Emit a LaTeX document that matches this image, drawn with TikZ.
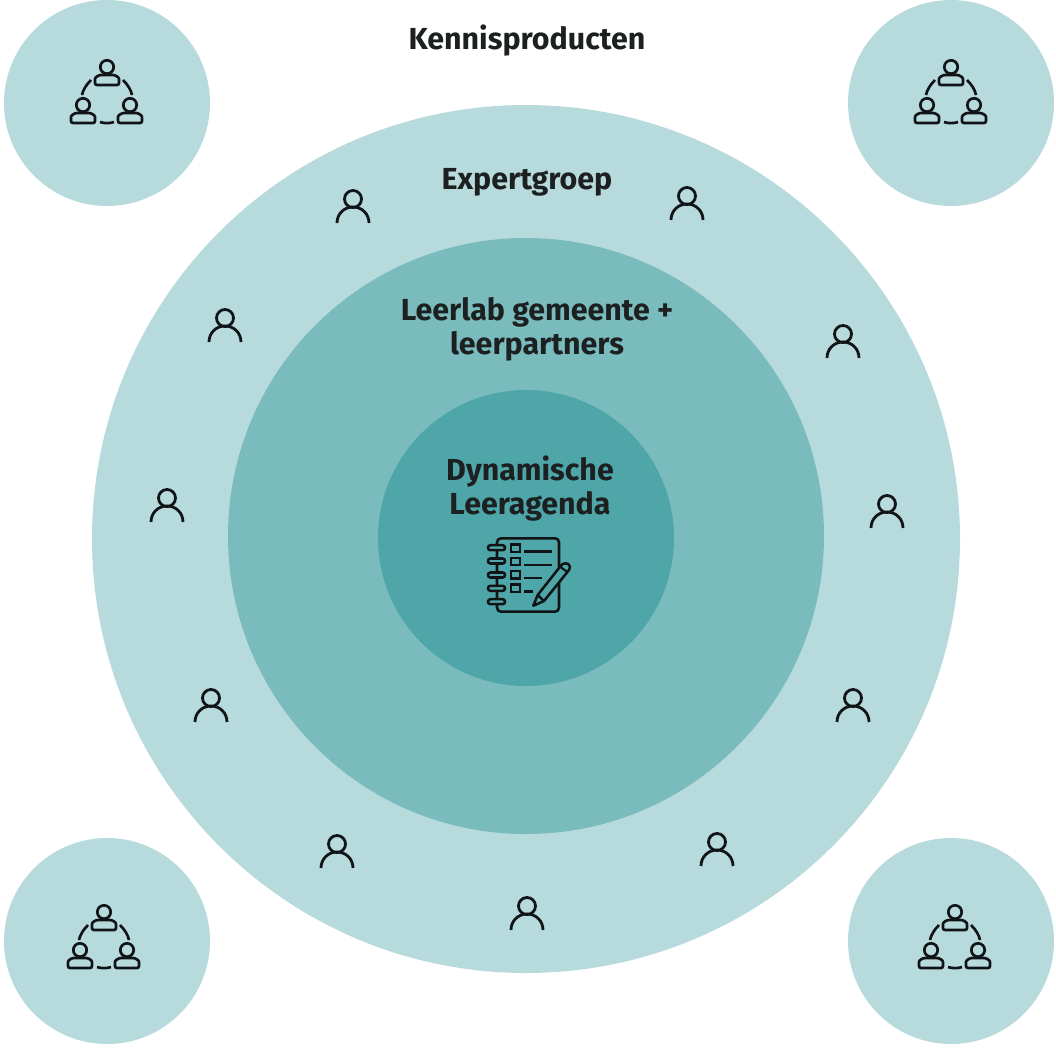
\documentclass[tikz,border=0pt]{standalone}
\usepackage{fontspec}
\setmainfont{Fira Sans}
\definecolor{lichtblauw}{HTML}{B7DADC}
\definecolor{middenblauw}{HTML}{7ABBBD}
\definecolor{donkerblauw}{HTML}{4FA6A9}
\definecolor{tekstkleur}{HTML}{1D2020}
\definecolor{lijnkleur}{HTML}{101416}
\tikzset{
    kring/.style={circle,inner sep=0pt,draw=none},
    kop/.style={text=tekstkleur,font=\fontsize{22.8}{25.5}\selectfont\bfseries,align=center},
    persoon/.pic={
        \draw[lijnkleur,line width=2.1pt] (0,0) circle (8.5);
        \draw[lijnkleur,line width=2.1pt] (-16,24) .. controls (-16,15) and (-9,8) .. (0,8) .. controls (9,8) and (16,15) .. (16,24);
    },
    lid/.pic={
        \draw[lijnkleur,line width=2pt] (0,0) circle (6.7);
        \draw[lijnkleur,line width=2pt,rounded corners=1.5pt] (-12,18) -- (12,18) -- (12,14) .. controls (12,10) and (8,8) .. (4,8) -- (-4,8) .. controls (-8,8) and (-12,10) .. (-12,14) -- cycle;
    },
    groep/.pic={
        \pic at (0,-25) {lid};
        \pic at (-24,13) {lid};
        \pic at (23,13) {lid};
        \draw[lijnkleur,line width=2pt] (-16,-12) .. controls (-21,-7) and (-24,-2) .. (-25,3);
        \draw[lijnkleur,line width=2pt] (16,-12) .. controls (21,-7) and (24,-2) .. (25,3);
        \draw[lijnkleur,line width=2pt] (-7,30) .. controls (-3,31.5) and (3,31.5) .. (7,30);
    },
    agenda/.pic={
        \draw[lijnkleur,line width=1.9pt,rounded corners=3pt] (31,-8) -- (31,-36.7) -- (-31,-36.7) -- (-31,36.7) -- (31,36.7) -- (31,7);
        \foreach \ringy in {-27.3,-14,0,13.3,26.7}
            \draw[lijnkleur,line width=1.9pt,fill=donkerblauw,rounded corners=1.8pt] (-40,\ringy-2.5) rectangle (-23,\ringy+2.5);
        \foreach \boxy/\eindx in {-30.7/24.3,-17.3/24.3,-4/13.7,9.3/5.3} {
            \draw[lijnkleur,line width=1.8pt] (-17,\boxy) rectangle (-8,\boxy+7.4);
            \draw[lijnkleur,line width=1.8pt] (-3.7,\boxy+7) -- (\eindx,\boxy+7);
        }
        \draw[lijnkleur,line width=1.9pt,line join=round,fill=donkerblauw] (9.7,20) -- (32,-8.3) .. controls (35,-13) and (41,-13) .. (42,-8) .. controls (42.3,-7) and (42,-6) .. (41,-5) -- (16,26) -- (5.3,30.7) -- cycle;
        \draw[lijnkleur,line width=1.9pt] (9.7,20) -- (16,26);
        \draw[lijnkleur,line width=1.6pt] (32,-8.3) -- (39.5,-3);
    },
}
\begin{document}
\begin{tikzpicture}[x=0.75pt,y=-0.75pt]
    \useasboundingbox (0,0) rectangle (1056,1047);

    % De grote kringen
    \node[kring,fill=lichtblauw,minimum size=651pt] (expert) at (526,539) {};
    \node[kring,fill=middenblauw,minimum size=447pt] (leerlab) at (526,536) {};
    \node[kring,fill=donkerblauw,minimum size=222pt] (kern) at (526,538) {};

    % De vier kleine kringen
    \node[kring,fill=lichtblauw,minimum size=154.5pt] (kringlb) at (107,103) {};
    \node[kring,fill=lichtblauw,minimum size=154.5pt] (kringrb) at (951,103) {};
    \node[kring,fill=lichtblauw,minimum size=154.5pt] (kringlo) at (107,941) {};
    \node[kring,fill=lichtblauw,minimum size=154.5pt] (kringro) at (951,941) {};

    % Teksten
    \node[kop] (kennis) at (527,41) {Kennisproducten};
    \node[kop] (expertlabel) at (527,182) {Expertgroep};
    \node[kop] (leerlablabel) at (537,329) {Leerlab gemeente +\\leerpartners};
    \node[kop] (agendalabel) at (530,489) {Dynamische\\Leeragenda};

    % Iconen
    \foreach \px/\py in {353/199,687/196,843/334,887/504,853/698,717/842,527/906,337/844,211/698,167/498,225/318}
        \pic at (\px,\py) {persoon};

    \pic at (107,92) {groep};
    \pic at (951,92) {groep};
    \pic at (104,937) {groep};
    \pic at (955,937) {groep};

    \pic at (528,575) {agenda};
\end{tikzpicture}
\end{document}
